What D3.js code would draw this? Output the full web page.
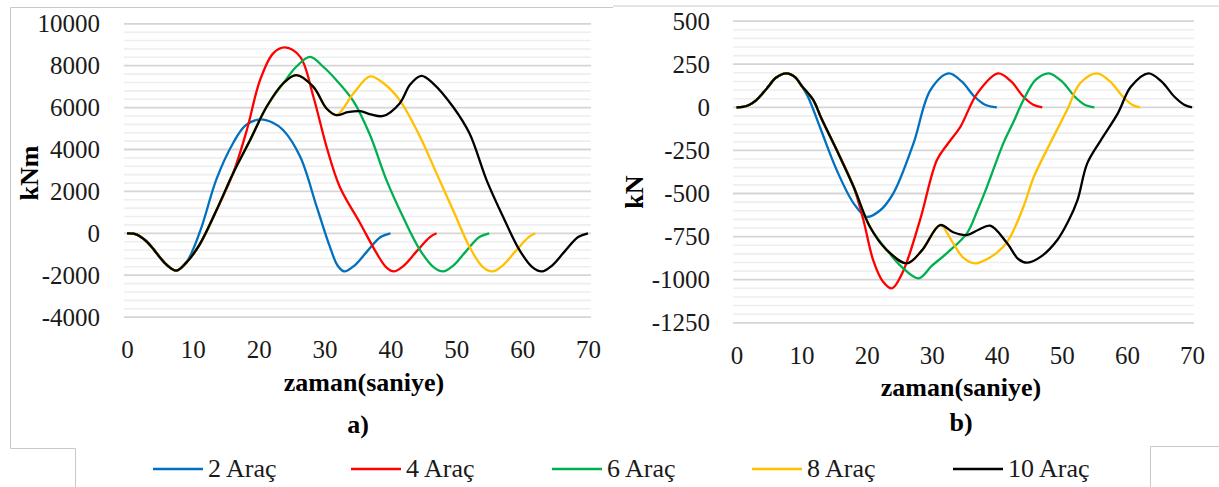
<!DOCTYPE html>
<html>
<head>
<meta charset="utf-8">
<script src="https://cdn.jsdelivr.net/npm/d3@7"></script>
<style>
  body { margin: 0; background: #fff; }
  svg { display: block; }
</style>
</head>
<body>
<svg id="chart" width="1219" height="487"></svg>
<script>
// ---- data ----
var seriesNames = ["2 Araç", "4 Araç", "6 Araç", "8 Araç", "10 Araç"];
var seriesColors = ["#0070C0", "#FF0000", "#00B050", "#FFC000", "#000000"];

// a) moment, kNm
var momentTime2 = [0,1,2,3,4,5,6,7.5,9,11.1,13.6,16.1,18,20.2,22,23.7,26.3,28.8,30.8,32,33,34.5,36.5,38.5,40];
var moment2 = [0,-20,-150,-400,-750,-1150,-1500,-1780,-1400,100,2600,4300,5150,5440,5300,4930,3650,1270,-640,-1550,-1820,-1550,-850,-180,0];
var momentTime4 = [0,1,2,3,4,5,6,7.5,9,11,13.6,16.1,18.2,20.2,22.2,24,26.3,28.3,30.3,32.3,35.4,37.9,39.3,40.5,42,44,46,47];
var moment4 = [0,-20,-150,-400,-750,-1150,-1500,-1780,-1400,-550,1110,2860,4930,7310,8590,8870,8420,6520,4130,2220,480,-950,-1600,-1820,-1550,-850,-180,0];
var momentTime6 = [0,1,2,3,4,5,6,7.5,9,11,13.6,16.1,18.7,21.2,23.7,25.7,27.8,29.8,31.8,34.4,36.9,39.4,41.9,44.5,46.5,48,49.5,51.5,53.5,55];
var moment6 = [0,-20,-150,-400,-750,-1150,-1500,-1780,-1400,-550,1110,2860,4450,6040,7150,7950,8420,7950,7310,6300,4690,2540,790,-800,-1600,-1820,-1550,-850,-180,0];
var momentTime8 = [0,1,2,3,4,5,6,7.5,9,11,13.6,16.1,18.7,21.2,23.7,25.7,28.3,30.3,31.8,34.4,36.9,39,41.4,44.5,47,49.5,52,54,55.5,57,59,61,62];
var moment8 = [0,-20,-150,-400,-750,-1150,-1500,-1780,-1400,-550,1110,2860,4450,6040,7150,7550,6990,5960,5640,6680,7490,7150,6360,4610,2860,1110,-640,-1600,-1820,-1550,-850,-180,0];
var momentTime10 = [0,1,2,3,4,5,6,7.5,9,11,13.6,16.1,18.7,21.2,23.7,25.7,28.3,30.3,31.8,33.5,35.4,37,38.9,41.4,43,44.7,46.5,49.5,52,54.6,57.1,59.6,61.5,63,64.5,66.5,68.5,70];
var moment10 = [0,-20,-150,-400,-750,-1150,-1500,-1780,-1400,-550,1110,2860,4450,6040,7150,7550,6990,5960,5640,5780,5830,5680,5600,6200,7100,7510,7150,6040,4770,2540,790,-800,-1600,-1820,-1550,-850,-180,0];

// b) shear, kN
var shearTime2 = [0,1,2,3,4,5,6,7.7,9,10,11,12.8,15.4,18,20,22,24.1,27.2,29.8,32.6,34.6,36.6,38.2,40];
var shear2 = [0,3,15,40,80,125,170,197,175,125,60,-113,-364,-557,-635,-600,-499,-209,100,197,150,61,15,0];
var shearTime4 = [0,1,2,3,4,5,6,7.7,9,10,11.8,13,15.4,18,19.5,21,22.5,23.9,25.5,28.2,30.8,32.5,34.4,37,40.2,42.2,44.1,45.6,47];
var shear4 = [0,3,15,40,80,125,170,197,175,125,42,-60,-248,-461,-654,-886,-1010,-1050,-960,-654,-306,-210,-113,81,197,150,61,15,0];
var shearTime6 = [0,1,2,3,4,5,6,7.7,9,10,11.8,13,15.4,18,20.5,23.1,25.5,28,30,32.3,35.4,37,38.5,41,42.5,44.1,46,48,50,52,53.5,55];
var shear6 = [0,3,15,40,80,125,170,197,175,125,42,-60,-248,-461,-693,-828,-930,-992,-920,-847,-731,-600,-460,-209,-90,42,160,197,150,61,15,0];
var shearTime8 = [0,1,2,3,4,5,6,7.7,9,10,11.8,13,15.4,18,20.5,23.1,26.2,28.5,31.3,33,34.8,36.7,39,41,42.1,44.1,45.7,48.2,50.8,52.8,55.4,57.4,59.4,60.8,62];
var shear8 = [0,3,15,40,80,125,170,197,175,125,42,-60,-248,-461,-693,-828,-905,-830,-683,-770,-870,-905,-870,-809,-750,-577,-403,-209,-16,139,197,150,61,15,0];
var shearTime10 = [0,1,2,3,4,5,6,7.7,9,10,11.8,13,15.4,18,20.5,23.1,26.2,28.5,31.3,33.3,35.4,37.2,39,41.6,43.3,44.7,47,49.3,51,52.4,53.9,56,58.6,60.6,63.3,65.3,67.3,68.8,70];
var shear10 = [0,3,15,40,80,125,170,197,175,125,42,-60,-248,-461,-693,-828,-905,-830,-683,-725,-741,-710,-687,-789,-880,-901,-860,-770,-660,-538,-325,-190,-35,119,197,150,61,15,0];

var xTicks = [0,10,20,30,40,50,60,70];
var momentTicks = [-4000,-2000,0,2000,4000,6000,8000,10000];
var shearTicks = [-1250,-1000,-750,-500,-250,0,250,500];

// ---- drawing ----
var svg = d3.select("#chart");
var serif = "Liberation Serif";

function zip(ts, vs) {
    return ts.map(function (t, i) { return { t: t, v: vs[i] }; });
}

function drawPanel(p) {
    var x = d3.scaleLinear().domain([0, 70]).range(p.xRange);
    var y = d3.scaleLinear().domain([p.ticks[0], p.ticks[p.ticks.length - 1]]).range(p.yRange);
    var g = svg.append("g");

    // minor then major gridlines
    var minor = d3.range(p.ticks[0], p.ticks[p.ticks.length - 1], p.minorStep)
        .filter(function (d) { return p.ticks.indexOf(d) < 0; });
    g.selectAll(".minor").data(minor).enter().append("line")
        .attr("x1", p.gridX[0]).attr("x2", p.gridX[1])
        .attr("y1", function (d) { return y(d); }).attr("y2", function (d) { return y(d); })
        .attr("stroke", "#eeeeee").attr("stroke-width", 1.6);
    g.selectAll(".major").data(p.ticks).enter().append("line")
        .attr("x1", p.gridX[0]).attr("x2", p.gridX[1])
        .attr("y1", function (d) { return y(d); }).attr("y2", function (d) { return y(d); })
        .attr("stroke", "#d5d5d5").attr("stroke-width", 1.8);

    // y axis labels
    var ya = g.append("g").attr("transform", "translate(" + p.yLabelX + ",0)")
        .call(d3.axisLeft(y).tickValues(p.ticks).tickSize(0).tickPadding(0)
            .tickFormat(function (d) { return String(d); }));
    ya.attr("font-family", serif).attr("font-size", 25);
    ya.select(".domain").remove();
    ya.selectAll("text").style("font-family", serif).style("font-size", "25px").attr("fill", "#1a1a1a");

    // x axis labels
    var xa = g.append("g").attr("transform", "translate(0," + p.xLabelY + ")")
        .call(d3.axisBottom(x).tickValues(xTicks).tickSize(0).tickPadding(0)
            .tickFormat(function (d) { return String(d); }));
    xa.attr("font-family", serif).attr("font-size", 25);
    xa.select(".domain").remove();
    xa.selectAll("text").attr("y", 0).attr("dy", "0.32em")
        .style("font-family", serif).style("font-size", "25px").attr("fill", "#1a1a1a");

    // series
    var line = d3.line()
        .x(function (d) { return x(d.t); })
        .y(function (d) { return y(d.v); })
        .curve(d3.curveCatmullRom.alpha(0.5));
    p.series.forEach(function (s, i) {
        g.append("path").attr("d", line(zip(s[0], s[1])))
            .attr("fill", "none").attr("stroke", seriesColors[i])
            .attr("stroke-width", 2.3).attr("stroke-linejoin", "round");
    });

    // titles
    g.append("text").attr("transform", "translate(" + p.yTitle[0] + "," + p.yTitle[1] + ") rotate(-90)")
        .attr("text-anchor", "middle").attr("dy", "0.32em")
        .style("font-family", serif).style("font-size", "26px").style("font-weight", "bold")
        .text(p.yTitleText);
    g.append("text").attr("x", p.xTitle[0]).attr("y", p.xTitle[1])
        .attr("text-anchor", "middle").attr("dy", "0.32em")
        .style("font-family", serif).style("font-size", "26px").style("font-weight", "bold")
        .text("zaman(saniye)");
    g.append("text").attr("x", p.tag[0]).attr("y", p.tag[1])
        .attr("text-anchor", "middle").attr("dy", "0.32em")
        .style("font-family", serif).style("font-size", "26px").style("font-weight", "bold")
        .text(p.tagText);
}

drawPanel({
    ticks: momentTicks, minorStep: 400,
    xRange: [127, 588], yRange: [317.1, 23.8], gridX: [124, 591],
    yLabelX: 100, xLabelY: 350,
    yTitle: [30, 173], yTitleText: "kNm",
    xTitle: [364, 383], tag: [358, 425], tagText: "a)",
    series: [[momentTime2, moment2], [momentTime4, moment4], [momentTime6, moment6],
             [momentTime8, moment8], [momentTime10, moment10]]
});

drawPanel({
    ticks: shearTicks, minorStep: 50,
    xRange: [736.5, 1192], yRange: [322.8, 21.1], gridX: [733, 1194],
    yLabelX: 710, xLabelY: 356,
    yTitle: [635, 192], yTitleText: "kN",
    xTitle: [961, 388], tag: [961, 423], tagText: "b)",
    series: [[shearTime2, shear2], [shearTime4, shear4], [shearTime6, shear6],
             [shearTime8, shear8], [shearTime10, shear10]]
});

// frames around the panels
var frame = svg.append("g").attr("stroke", "#c8c8c8").attr("stroke-width", 1).attr("fill", "none");
frame.append("path").attr("d", "M613,7.5H10.5V448.5H75.5V487");
frame.append("path").attr("d", "M613,6H1219");
frame.append("path").attr("d", "M1150.5,487V446.5H1219");

// legend
var legendX = [153, 351, 552, 752, 953];
var legend = svg.append("g");
seriesNames.forEach(function (name, i) {
    legend.append("line").attr("x1", legendX[i]).attr("x2", legendX[i] + 50)
        .attr("y1", 469).attr("y2", 469)
        .attr("stroke", seriesColors[i]).attr("stroke-width", 2.3);
    legend.append("text").attr("x", legendX[i] + 55).attr("y", 469).attr("dy", "0.32em")
        .style("font-family", serif).style("font-size", "26px").attr("fill", "#1a1a1a")
        .text(name);
});
</script>
</body>
</html>
